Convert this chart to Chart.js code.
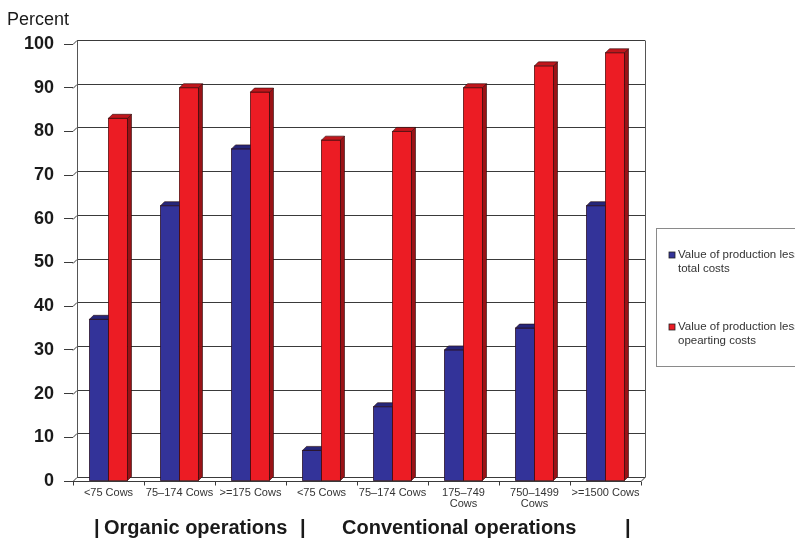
<!DOCTYPE html>
<html>
<head>
<meta charset="utf-8">
<script src="https://cdn.jsdelivr.net/npm/chart.js@4/dist/chart.umd.min.js"></script>
<style>
  html, body { margin: 0; padding: 0; background: #fff; }
  #wrap { position: relative; width: 795px; height: 540px; }
</style>
</head>
<body>
<div id="wrap"><canvas id="c" width="795" height="540"></canvas></div>
<script>
// Herd-size classes (organic first, then conventional)
const categories = [
  '<75 Cows', '75\u2013174 Cows', '>=175 Cows',
  '<75 Cows', '75\u2013174 Cows', ['175\u2013749', 'Cows'], ['750\u20131499', 'Cows'], '>=1500 Cows'
];
// Share of operations with positive returns, percent
const totalCostsShare = [37, 63, 76, 7, 17, 30, 35, 63];
const operatingCostsShare = [83, 90, 89, 78, 80, 90, 95, 98];
const seriesNames = ['Value of production less total costs', 'Value of production less opearting costs'];
const seriesLegendLines = [['Value of production less', 'total costs'], ['Value of production less', 'opearting costs']];
const groupLabels = ['Organic operations', 'Conventional operations'];
const yTickValues = [0, 10, 20, 30, 40, 50, 60, 70, 80, 90, 100];

const FONT = '"Liberation Sans", Arial, Helvetica, sans-serif';
const DX = 4, DY = 4; // depth of the pseudo-3D box

const palette = [
  { front: '#333399', side: '#1c1c5e', top: '#26267a' },
  { front: '#ec1c24', side: '#9a1216', top: '#c0161c' }
];

function line(ctx, x1, y1, x2, y2) {
  ctx.beginPath(); ctx.moveTo(x1, y1); ctx.lineTo(x2, y2); ctx.stroke();
}

const boxPlugin = {
  id: 'box3d',
  beforeDatasetsDraw(chart) {
    const { ctx, chartArea: a, scales: { x, y } } = chart;
    ctx.save();
    ctx.lineWidth = 1;
    ctx.strokeStyle = '#3a3a3a';
    // back wall gridlines and left-side depth connectors
    yTickValues.forEach(v => {
      const py = Math.round(y.getPixelForValue(v)) + 0.5;
      line(ctx, a.left + DX, py - DY, a.right + DX, py - DY);
      line(ctx, a.left, py, a.left + DX, py - DY);
    });
    // wall edges
    const yTop = Math.round(y.getPixelForValue(100)) + 0.5 - DY;
    const yBot = Math.round(y.getPixelForValue(0)) + 0.5;
    ctx.strokeStyle = '#555';
    line(ctx, a.left + DX + 0.5, yTop, a.left + DX + 0.5, yBot - DY);
    line(ctx, a.right + DX + 0.5, yTop, a.right + DX + 0.5, yBot - DY);
    // floor front edge and right corner
    ctx.strokeStyle = '#3a3a3a';
    line(ctx, a.left, yBot, a.right, yBot);
    line(ctx, a.right, yBot, a.right + DX, yBot - DY);
    // category boundary ticks below the floor
    const n = categories.length;
    for (let i = 0; i <= n; i++) {
      const px = Math.round(a.left + (a.right - a.left) * i / n) + 0.5;
      line(ctx, px, yBot, px, yBot + 4);
    }
    ctx.restore();
  },
  afterDatasetsDraw(chart) {
    const { ctx } = chart;
    ctx.save();
    ctx.lineWidth = 0.8;
    ctx.strokeStyle = 'rgba(40,10,10,0.75)';
    chart.data.datasets.forEach((ds, di) => {
      const meta = chart.getDatasetMeta(di);
      const c = palette[di];
      meta.data.forEach(bar => {
        const p = bar.getProps(['x', 'y', 'base', 'width'], true);
        const l = p.x - p.width / 2, r = p.x + p.width / 2;
        const t = p.y, b = p.base;
        // front face
        ctx.fillStyle = c.front;
        ctx.fillRect(l, t, r - l, b - t);
        ctx.strokeRect(l, t, r - l, b - t);
        // side face
        ctx.fillStyle = c.side;
        ctx.beginPath();
        ctx.moveTo(r, t); ctx.lineTo(r + DX, t - DY); ctx.lineTo(r + DX, b - DY); ctx.lineTo(r, b);
        ctx.closePath(); ctx.fill(); ctx.stroke();
        // top face
        ctx.fillStyle = c.top;
        ctx.beginPath();
        ctx.moveTo(l, t); ctx.lineTo(l + DX, t - DY); ctx.lineTo(r + DX, t - DY); ctx.lineTo(r, t);
        ctx.closePath(); ctx.fill(); ctx.stroke();
      });
    });
    ctx.restore();
  },
  afterDraw(chart) {
    const { ctx } = chart;
    ctx.save();
    // axis title
    ctx.fillStyle = '#1a1a1a';
    ctx.font = '18px ' + FONT;
    ctx.textBaseline = 'alphabetic';
    ctx.textAlign = 'left';
    ctx.fillText('Percent', 7, 25);

    // legend
    ctx.strokeStyle = '#8a8a8a';
    ctx.lineWidth = 1;
    ctx.strokeRect(656.5, 228.5, 200, 138);
    ctx.font = '11.5px ' + FONT;
    ctx.fillStyle = '#333';
    const itemY = [255, 327];
    seriesLegendLines.forEach((lines, i) => {
      ctx.fillStyle = palette[i].front;
      ctx.fillRect(669, itemY[i] - 3, 6, 6);
      ctx.strokeStyle = '#222';
      ctx.lineWidth = 0.8;
      ctx.strokeRect(669, itemY[i] - 3, 6, 6);
      ctx.fillStyle = '#333';
      ctx.textBaseline = 'middle';
      lines.forEach((s, k) => ctx.fillText(s, 678, itemY[i] + k * 13.5));
    });

    // group captions
    ctx.fillStyle = '#1a1a1a';
    ctx.font = 'bold 20px ' + FONT;
    ctx.textBaseline = 'alphabetic';
    ctx.fillText('|', 94, 534);
    ctx.fillText(groupLabels[0], 104, 534);
    ctx.fillText('|', 300, 534);
    ctx.fillText(groupLabels[1], 342, 534);
    ctx.fillText('|', 625, 534);
    ctx.restore();
  }
};

new Chart(document.getElementById('c'), {
  type: 'bar',
  data: {
    labels: categories,
    datasets: [
      { label: seriesNames[0], data: totalCostsShare, backgroundColor: palette[0].front },
      { label: seriesNames[1], data: operatingCostsShare, backgroundColor: palette[1].front }
    ]
  },
  options: {
    responsive: false,
    animation: false,
    devicePixelRatio: 1,
    layout: { padding: { top: 44, right: 154, left: 0, bottom: 0 } },
    datasets: { bar: { categoryPercentage: 0.535, barPercentage: 1.0 } },
    plugins: { legend: { display: false }, tooltip: { enabled: false }, title: { display: false } },
    scales: {
      x: {
        grid: { display: false, drawTicks: false },
        border: { display: false },
        ticks: {
          font: { family: FONT, size: 11, lineHeight: 1.0 },
          color: '#333',
          maxRotation: 0, minRotation: 0, autoSkip: false, padding: 6
        },
        afterFit(s) { s.height = 59; }
      },
      y: {
        min: 0, max: 100,
        afterBuildTicks(s) { s.ticks = yTickValues.map(v => ({ value: v })); },
        grid: { display: true, drawOnChartArea: false, drawTicks: true, tickLength: 9, tickColor: '#3a3a3a' },
        border: { display: false },
        ticks: {
          font: { family: FONT, size: 18, weight: 'bold' },
          color: '#1a1a1a',
          padding: 10
        },
        afterFit(s) { s.width = 73; }
      }
    }
  },
  plugins: [boxPlugin]
});
</script>
</body>
</html>
